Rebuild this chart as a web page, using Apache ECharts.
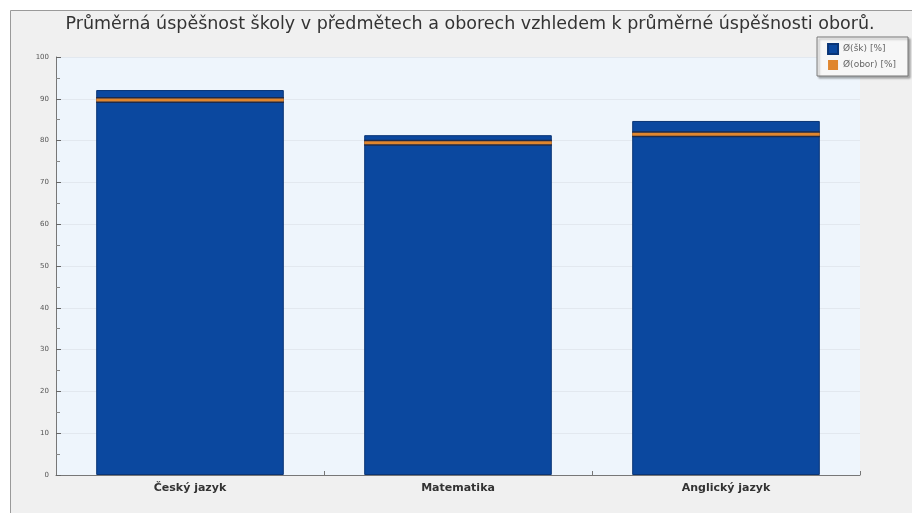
<!DOCTYPE html>
<html>
<head>
<meta charset="utf-8">
<script src="https://cdn.jsdelivr.net/npm/echarts@6/dist/echarts.min.js"></script>
<style>html,body{margin:0;padding:0;background:#fff}#c{width:912px;height:513px}</style>
</head>
<body>
<div id="c"></div>
<script>
const titleText = 'Průměrná úspěšnost školy v předmětech a oborech vzhledem k průměrné úspěšnosti oborů.';
const categories = ['Český jazyk', 'Matematika', 'Anglický jazyk'];
const schoolAvg = [92.1, 81.3, 84.7];
const fieldAvg = [89.7, 79.5, 81.5];
const seriesNames = ['Ø(šk) [%]', 'Ø(obor) [%]'];

const chart = echarts.init(document.getElementById('c'));
chart.setOption({
  backgroundColor: '#ffffff',
  animation: false,
  graphic: [{
    type: 'rect', z: -10, silent: true,
    shape: { x: 10.5, y: 10.5, width: 910, height: 520 },
    style: { fill: '#f0f0f0', stroke: '#9a9a9a', lineWidth: 1 }
  }],
  title: {
    text: titleText,
    left: 465, top: 10, textAlign: 'center',
    textStyle: { fontFamily: 'DejaVu Sans', fontSize: 17.5, fontWeight: 'normal', color: '#333' }
  },
  legend: {
    right: 4, top: 37, orient: 'vertical',
    itemWidth: 10, itemHeight: 10, itemGap: 5,
    padding: [6, 12, 6, 10],
    backgroundColor: '#f7f7f7', borderColor: '#777', borderWidth: 1,
    shadowColor: 'rgba(0,0,0,0.3)', shadowOffsetX: 2, shadowOffsetY: 2, shadowBlur: 2,
    textStyle: { fontFamily: 'DejaVu Sans', fontSize: 9, color: '#666' },
    data: [{ name: seriesNames[0], icon: 'rect' }, { name: seriesNames[1], icon: 'rect' }]
  },
  grid: {
    left: 56, right: 52, top: 57, bottom: 38,
    show: true, backgroundColor: '#eef5fc', borderWidth: 0
  },
  xAxis: {
    type: 'category', data: categories,
    axisLine: { lineStyle: { color: '#777' } },
    axisTick: { show: true, inside: true, length: 4, lineStyle: { color: '#777' } },
    axisLabel: { fontFamily: 'DejaVu Sans', fontSize: 11, fontWeight: 'bold', color: '#333', margin: 8 }
  },
  yAxis: {
    type: 'value', min: 0, max: 100, interval: 10,
    axisLine: { show: true, lineStyle: { color: '#777' } },
    axisTick: { show: true, inside: true, length: 5, lineStyle: { color: '#666' } },
    minorTick: { show: true, splitNumber: 2, length: 4, lineStyle: { color: '#888' } },
    splitLine: { show: true, lineStyle: { color: '#e2e8ef', width: 1 } },
    axisLabel: { fontFamily: 'DejaVu Sans', fontSize: 7, color: '#555', margin: 7 }
  },
  series: [{
    name: seriesNames[0], type: 'bar', data: schoolAvg, barWidth: '70%',
    itemStyle: { color: '#0b489f', borderColor: '#0a3576', borderWidth: 1 }
  }, {
    name: seriesNames[1], type: 'custom', z: 5,
    itemStyle: { color: '#e0862e' },
    data: fieldAvg.map((v, i) => [i, v]),
    encode: { x: 0, y: 1 },
    renderItem: function (params, api) {
      const p = api.coord([api.value(0), api.value(1)]);
      const w = api.size([1, 0])[0] * 0.7;
      return {
        type: 'group',
        children: [{
          type: 'rect',
          shape: { x: p[0] - w / 2, y: p[1] - 3, width: w, height: 6 },
          style: { fill: '#1e2a4a' }
        }, {
          type: 'rect',
          shape: { x: p[0] - w / 2, y: p[1] - 1.5, width: w, height: 3 },
          style: { fill: '#e0862e' }
        }]
      };
    }
  }]
});
</script>
</body>
</html>
